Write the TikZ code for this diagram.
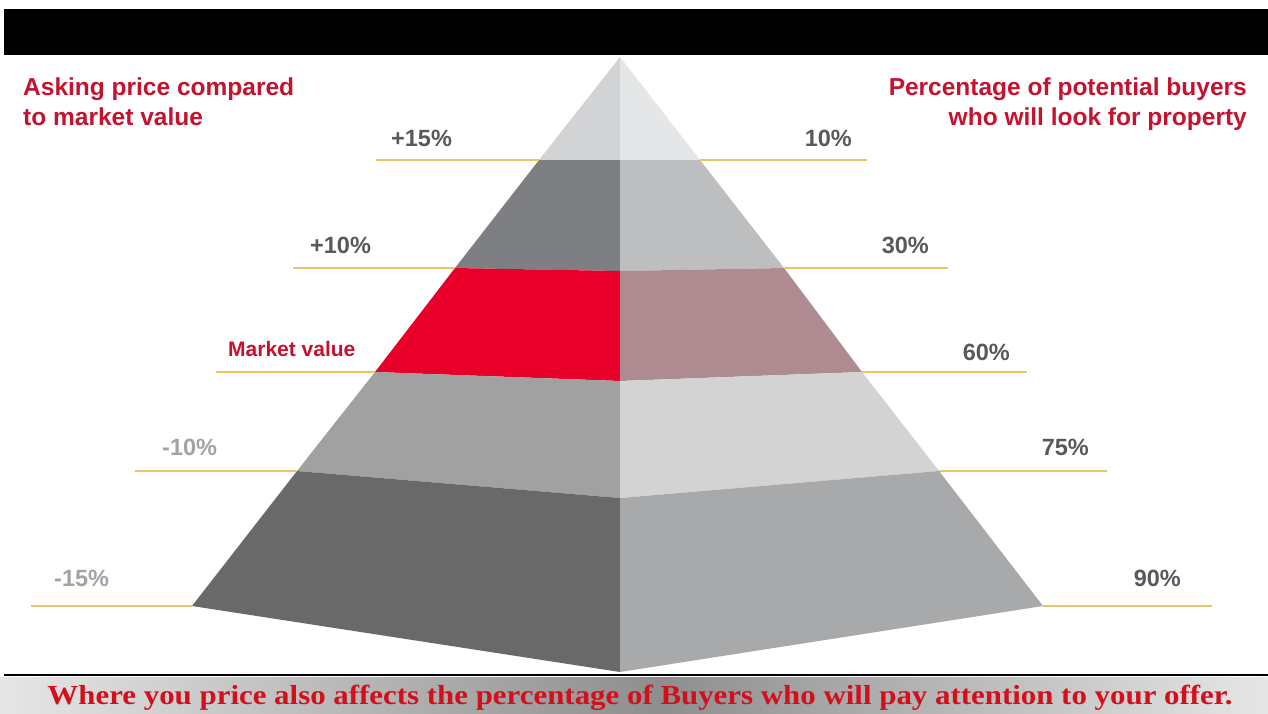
\documentclass[tikz,border=0pt]{standalone}
\usepackage{fontspec}
\usepackage{graphicx}
\setmainfont{Liberation Sans}
\newfontfamily\captionserif{Liberation Serif}

\definecolor{headred}{HTML}{C4122F}
\definecolor{labelgray}{HTML}{58595B}
\definecolor{lowgray}{HTML}{A3A3A5}
\definecolor{guideyellow}{HTML}{E8C664}
\definecolor{captionred}{HTML}{D40F1C}
\definecolor{stripedge}{HTML}{E6E6E6}
\definecolor{stripmid}{HTML}{8E8E8E}
% pyramid faces: left (shadowed) and right (lit) halves of each band
\definecolor{faceAl}{HTML}{D2D3D5}
\definecolor{faceAr}{HTML}{E5E6E7}
\definecolor{faceBl}{HTML}{7E7F82}
\definecolor{faceBr}{HTML}{BDBEC0}
\definecolor{faceCl}{HTML}{E8002B}
\definecolor{faceCr}{HTML}{AE8B91}
\definecolor{faceDl}{HTML}{A1A1A2}
\definecolor{faceDr}{HTML}{D3D3D3}
\definecolor{faceEl}{HTML}{6A696A}
\definecolor{faceEr}{HTML}{A8A9AB}

\begin{document}
\begin{tikzpicture}[x=1pt,y=-1pt,
  guide/.style={draw=guideyellow,line width=2pt},
  pct/.style={font=\bfseries\fontsize{23.5}{28}\selectfont,text=labelgray,inner sep=0pt},
  lowpct/.style={pct,text=lowgray},
  heading/.style={font=\bfseries\fontsize{24.5}{30}\selectfont,text=headred,inner sep=0pt},
]
\useasboundingbox (0,0) rectangle (1268,713);
\fill[white] (0,0) rectangle (1268,713);

% title bar
\fill[black] (4,9) rectangle (1268,55);

% pyramid corner points
\coordinate (A)  at (620,57);
\coordinate (L1) at (539,160);  \coordinate (C1) at (620,160);  \coordinate (R1) at (700,160);
\coordinate (L2) at (455,268);  \coordinate (C2) at (620,271);  \coordinate (R2) at (784,268);
\coordinate (L3) at (375,372);  \coordinate (C3) at (620,381);  \coordinate (R3) at (862,372);
\coordinate (L4) at (297,471);  \coordinate (C4) at (620,498);  \coordinate (R4) at (939,471);
\coordinate (L5) at (192,606);  \coordinate (C5) at (620,672);  \coordinate (R5) at (1043,606);

% pyramid faces
\fill[faceAl] (A) -- (L1) -- (C1) -- cycle;
\fill[faceAr] (A) -- (C1) -- (R1) -- cycle;
\fill[faceBl] (L1) -- (L2) -- (C2) -- (C1) -- cycle;
\fill[faceBr] (C1) -- (C2) -- (R2) -- (R1) -- cycle;
\fill[faceCl] (L2) -- (L3) -- (C3) -- (C2) -- cycle;
\fill[faceCr] (C2) -- (C3) -- (R3) -- (R2) -- cycle;
\fill[faceDl] (L3) -- (L4) -- (C4) -- (C3) -- cycle;
\fill[faceDr] (C3) -- (C4) -- (R4) -- (R3) -- cycle;
\fill[faceEl] (L4) -- (L5) -- (C5) -- (C4) -- cycle;
\fill[faceEr] (C4) -- (C5) -- (R5) -- (R4) -- cycle;

% guide line ends
\coordinate (gl1) at (376,160);  \coordinate (gr1) at (867,160);
\coordinate (gl2) at (293,268);  \coordinate (gr2) at (948,268);
\coordinate (gl3) at (216,372);  \coordinate (gr3) at (1027,372);
\coordinate (gl4) at (135,471);  \coordinate (gr4) at (1107,471);
\coordinate (gl5) at (31,606);   \coordinate (gr5) at (1212,606);

\foreach \i in {1,...,5}{
  \draw[guide] (gl\i) -- (L\i);
  \draw[guide] (R\i) -- (gr\i);
}

% headings
\node[heading,anchor=north west,align=left] (askhead) at (23,78)
  {Asking price compared\\to market value};
\node[heading,anchor=north east,align=right] (buyhead) at (1247,78)
  {Percentage of potential buyers\\who will look for property};

% level labels
\node[pct,anchor=west] (p15) at (391,138) {+15\%};
\node[pct,anchor=east] (b10) at (852,138) {10\%};
\node[pct,anchor=west] (p10) at (310,245) {+10\%};
\node[pct,anchor=east] (b30) at (929,245) {30\%};
\node[heading,font=\bfseries\fontsize{21}{25}\selectfont,anchor=west] (mv) at (228,349) {Market value};
\node[pct,anchor=east] (b60) at (1010,352) {60\%};
\node[lowpct,anchor=west] (m10) at (162,447) {-10\%};
\node[pct,anchor=east] (b75) at (1089,447) {75\%};
\node[lowpct,anchor=west] (m15) at (54,578) {-15\%};
\node[pct,anchor=east] (b90) at (1181,578) {90\%};

% caption strip: light at the edges, darker towards the middle
\shade[left color=stripedge,right color=stripmid] (0,677) rectangle (660,713);
\shade[left color=stripmid,right color=stripedge] (660,677) rectangle (1268,713);
\draw[black,line width=2.2pt] (4,675) -- (1268,675);
\node[anchor=base,inner sep=0pt,text=captionred] (caption) at (640,704)
  {\resizebox{1185pt}{\height}{\captionserif\bfseries\fontsize{27.5}{32}\selectfont Where you price also affects the percentage of Buyers who will pay attention to your offer.}};
\end{tikzpicture}
\end{document}
